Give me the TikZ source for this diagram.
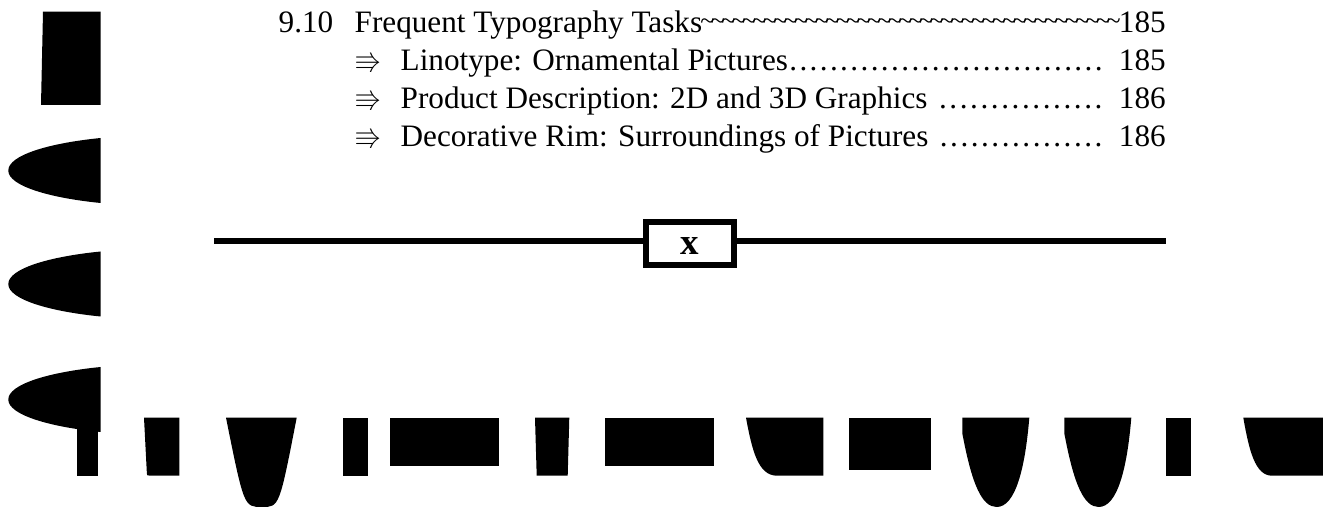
\documentclass[tikz,border=0pt]{standalone}
\usepackage{amssymb}
\usepackage{fontspec}
\setmainfont{Liberation Serif}
\usetikzlibrary{positioning}

\newcommand\tildelead{\xleaders\hbox to 5.1pt{\hss\fontsize{13}{14}\selectfont\raisebox{1.6pt}{\textasciitilde}\hss}\hfill}
\newcommand\dotlead{\xleaders\hbox to 5pt{\hss.\hss}\hfill}
\newcommand\tocarrow{\makebox[23pt][l]{\fontsize{13.5}{14}\selectfont\raisebox{0.5pt}{$\Rrightarrow$}}}

\tikzset{
  entry/.style={anchor=base west, inner sep=0pt, font=\fontsize{15.6}{19}\selectfont},
  xbox/.style={draw, line width=3pt, minimum width=43.7pt, minimum height=21.35pt, inner sep=0pt,
    text height=12pt, text depth=0.4pt, font=\fontsize{18.5}{20}\selectfont\bfseries},
  rule/.style={line width=3pt}
}

\begin{document}
\begin{tikzpicture}[x=0.5pt, y=-0.5pt]
    \useasboundingbox (0,0) rectangle (1323,507);

    \fill (43,11.7) -- (100.7,11.7) -- (100.7,105) -- (41,105) -- cycle;
    \foreach \dy in {0,113.5,229}
      \fill[shift={(0,\dy)}] (100.7,138) .. controls (50,143) and (8,155) .. (8.3,170.7)
        .. controls (8.5,186) and (50,198) .. (100.7,203) -- cycle;
    \fill (77.3,420) rectangle (97.7,475.7);

    \fill (144,417.7) -- (179.3,417.7) -- (179.3,475.7) -- (150,475.7) .. controls (147,475.7) .. (146.8,472) -- cycle;
    \fill (226,417.7) -- (296.7,417.7) .. controls (279.3,507) .. (262,507) .. controls (244,507) .. (226,417.7) -- cycle;
    \fill (343.3,417.7) rectangle (368,475.7);
    \fill (390,417.7) rectangle (499.3,466);
    \fill (535,417.7) -- (569.3,417.7) -- (567.7,475.7) -- (536.7,475.7) -- cycle;
    \fill (605,417.7) rectangle (714.3,466);
    \fill (746,417.7) -- (823.3,417.7) -- (823.3,475.7) -- (777,475.7) .. controls (758,475.7) and (752,450) .. (746,417.7) -- cycle;
    \fill (849,417.7) rectangle (931,470.3);
    \foreach \dx in {0,102}
      \fill[shift={(\dx,0)}] (962.3,417.7) -- (1029.3,417.7) .. controls (1025,470) and (1015,507) .. (996.7,507)
        .. controls (982,507) and (972,485) .. (962.3,433.3) -- cycle;
    \fill (1166,417.7) rectangle (1191,475.7);
    \fill (1243.3,417.7) -- (1323,417.7) -- (1323,475.7) -- (1272,475.7) .. controls (1255,475.7) and (1249,450) .. (1243.3,417.7) -- cycle;

    \node[entry] (num) at (278.3,32.3) {9.10};
    \node[entry] (tasks) at (354.3,32.3) {\hbox to 405.5pt{Frequent Typography Tasks\tildelead185}};
    \node[entry, below=19.05pt of tasks.base west, anchor=base west] (lino)
      {\hbox to 405.5pt{\tocarrow Linotype: Ornamental Pictures\dotlead\hspace{7.5pt}185}};
    \node[entry, below=19.05pt of lino.base west, anchor=base west] (prod)
      {\hbox to 405.5pt{\tocarrow Product Description: 2D and 3D Graphics\hspace{5pt}\dotlead\hspace{7.5pt}186}};
    \node[entry, below=19.05pt of prod.base west, anchor=base west] (rim)
      {\hbox to 405.5pt{\tocarrow Decorative Rim: Surroundings of Pictures\hspace{5pt}\dotlead\hspace{7.5pt}186}};

    \node[xbox] (xb) at (690,243.3) {x};
    \coordinate (l) at (214,240.7);
    \coordinate (r) at (1166,240.7);
    \draw[rule] (l) -- (l -| xb.west);
    \draw[rule] (xb.east |- r) -- (r);
  \end{tikzpicture}
\end{document}
